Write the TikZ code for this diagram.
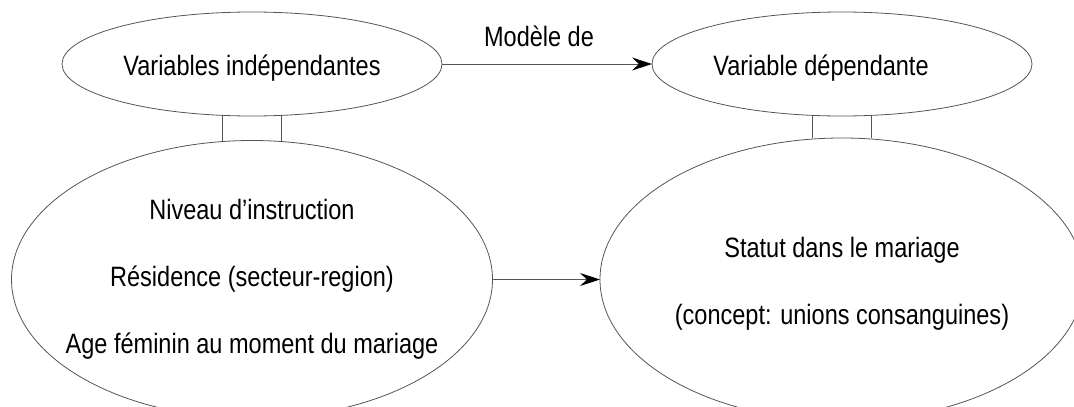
\documentclass[tikz,border=0pt]{standalone}
\usepackage{fontspec}
\setmainfont{Liberation Sans}[FakeStretch=0.84]
\usepackage{tikz}
\usetikzlibrary{arrows.meta, positioning, shapes.geometric}
\definecolor{trait}{RGB}{85,85,85}

\begin{document}
\begin{tikzpicture}[x=1pt, y=-1pt,
      oval/.style={ellipse, draw=trait, line width=0.8pt, inner sep=0pt, outer sep=0pt},
      txt/.style={font=\fontsize{28}{67}\selectfont, align=center, inner sep=0pt},
      lien/.style={draw=trait, line width=0.8pt},
      arr/.style={lien, -{Stealth[length=20pt, width=13pt, inset=7pt, color=black]}},
    ]
    \useasboundingbox (0,0) rectangle (1074,407);
    \clip (0,0) rectangle (1074,407);
    \node[oval, minimum width=380pt, minimum height=104pt] (vind) at (252,64) {};
    \node[oval, minimum width=380pt, minimum height=104pt] (vdep) at (842,64) {};
    \node[oval, minimum width=481pt, minimum height=278pt] (indep) at (252,279.5) {};
    \node[oval, minimum width=484pt, minimum height=283pt] (dep) at (842,279.5) {};
    \node[txt, anchor=base] (tind) at ([yshift=-11pt]vind.center) {Variables indépendantes};
    \node[txt, anchor=base] (tdep) at ([xshift=-21pt, yshift=-11pt]vdep.center) {Variable dépendante};
    \node[txt] (tniv) at (indep.center) {Niveau d'instruction\\Résidence (secteur-region)\\Age féminin au moment du mariage};
    \node[txt] (tstat) at ([yshift=-4pt]dep.center) {Statut dans le mariage\\(concept: unions consanguines)};
    \draw[arr] (vind) -- node[txt, above=17pt, xshift=-8pt] (tmod) {Modèle de} (vdep);
    \draw[arr] (indep) -- (dep);
    \foreach \a in {240,300} {
      \draw[lien] (vind.\a) -- (vind.\a |- indep.north);
      \draw[lien] (vdep.\a) -- (vdep.\a |- dep.north);
    }
  \end{tikzpicture}
\end{document}
